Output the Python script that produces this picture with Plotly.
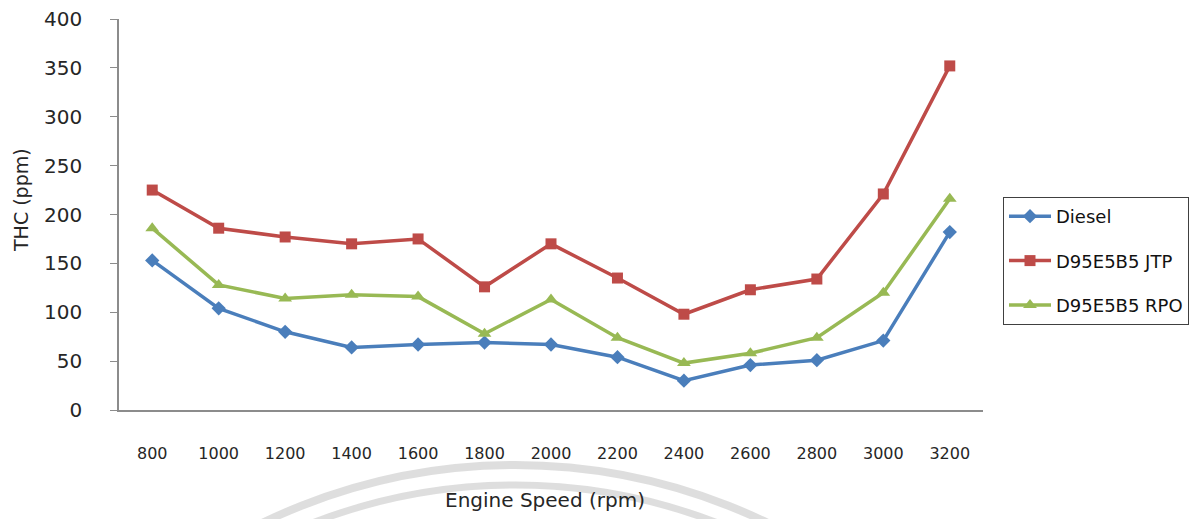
import plotly.graph_objects as go

# Engine speed categories (rpm)
speeds = ["800", "1000", "1200", "1400", "1600", "1800", "2000",
          "2200", "2400", "2600", "2800", "3000", "3200"]

# Total hydrocarbon emissions (ppm)
diesel = [153, 104, 80, 64, 67, 69, 67, 54, 30, 46, 51, 71, 182]
jtp = [225, 186, 177, 170, 175, 126, 170, 135, 98, 123, 134, 221, 352]
rpo = [186, 128, 114, 118, 116, 78, 113, 74, 48, 58, 74, 120, 216]

y_ticks = [0, 50, 100, 150, 200, 250, 300, 350, 400]

W, H = 1203, 519
L, R, T, B = 119, 220, 19, 109
PW, PH = W - L - R, H - T - B


def px(x):
    return (x - L) / PW


def py(y):
    return (H - B - y) / PH


FONT = "DejaVu Sans"
TXT = "#262626"

fig = go.Figure()
series = [
    ("Diesel", diesel, "#4A7EBB", "diamond", 11),
    ("D95E5B5 JTP", jtp, "#BE4B48", "square", 11),
    ("D95E5B5 RPO", rpo, "#98B954", "triangle-up", 12),
]
for name, vals, color, sym, size in series:
    fig.add_trace(go.Scatter(
        x=speeds, y=vals, name=name, mode="lines+markers",
        legendgroup=name,
        line=dict(color=color, width=3.5),
        marker=dict(symbol=sym, size=size, color=color),
    ))

# faint circular stamp behind the lower part of the chart
for r, w in [(580, 8), (560, 7)]:
    cx, cy = 515, 1045
    fig.add_shape(
        type="circle", xref="paper", yref="paper", layer="below",
        x0=px(cx - r), x1=px(cx + r), y0=py(cy + r), y1=py(cy - r),
        line=dict(color="rgba(205,205,205,0.65)", width=w),
    )

fig.add_annotation(
    text="THC (ppm)", textangle=-90, xref="paper", yref="paper",
    x=px(21), y=py(200), xanchor="center", yanchor="middle",
    showarrow=False,
    font=dict(family=FONT, size=19, color=TXT),
)
fig.add_annotation(
    text="Engine Speed (rpm)", xref="paper", yref="paper",
    x=px(545), y=py(500), xanchor="center", yanchor="middle",
    showarrow=False,
    font=dict(family=FONT, size=20, color=TXT),
)

fig.update_layout(
    template="none",
    width=W, height=H,
    margin=dict(l=L, r=R, t=T, b=B, autoexpand=False),
    paper_bgcolor="white", plot_bgcolor="white",
    showlegend=True,
    legend=dict(
        x=px(1003), y=py(197), xanchor="left", yanchor="top",
        bordercolor="#404040", borderwidth=1,
        font=dict(family=FONT, size=18, color="#111111"),
        itemwidth=42, tracegroupgap=18,
        bgcolor="white",
    ),
    xaxis=dict(
        type="category", range=[-0.5, len(speeds) - 0.5],
        automargin=False,
        showline=True, linecolor="#8c8c8c", linewidth=1.5,
        ticks="", showgrid=False, zeroline=False,
        tickfont=dict(family=FONT, size=16, color=TXT),
        ticklabelstandoff=28,
    ),
    yaxis=dict(
        range=[0, 400], tickvals=y_ticks,
        automargin=False,
        showline=True, linecolor="#8c8c8c", linewidth=1.5,
        ticks="outside", ticklen=7, tickcolor="#8c8c8c",
        showgrid=False, zeroline=False,
        tickfont=dict(family=FONT, size=20, color=TXT),
        ticklabelstandoff=24,
    ),
)

fig.write_html("out.html")
